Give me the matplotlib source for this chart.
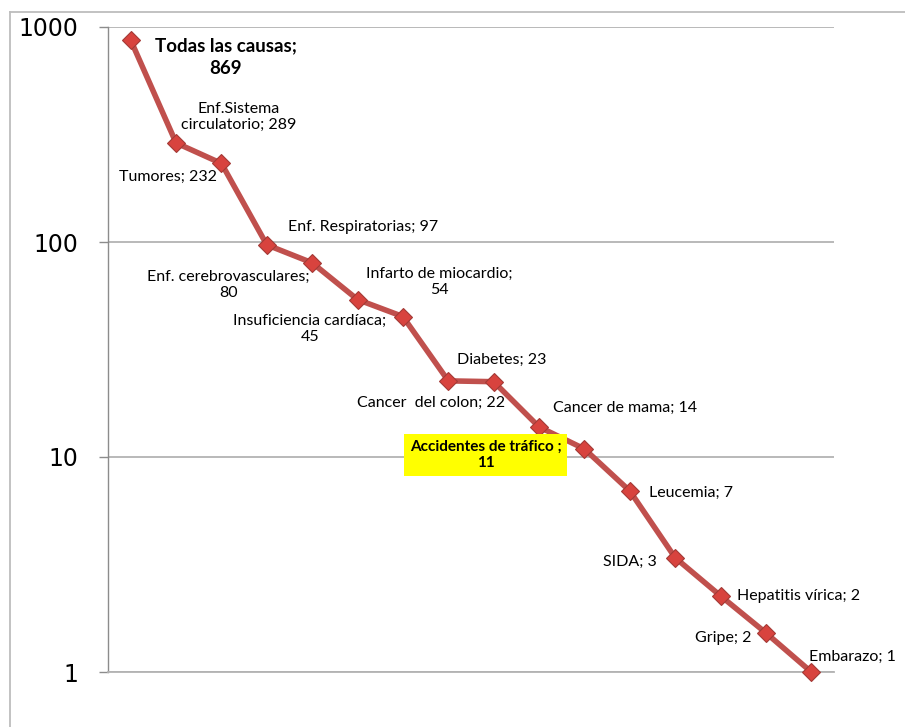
import matplotlib
matplotlib.use("Agg")
import matplotlib.pyplot as plt
from matplotlib.lines import Line2D
from matplotlib.ticker import FixedLocator, NullLocator, NullFormatter

# deaths per cause (log scale), sorted descending
causes = [
    "Todas las causas", "Enf.Sistema\ncirculatorio", "Tumores",
    "Enf. Respiratorias", "Enf. cerebrovasculares", "Infarto de miocardio",
    "Insuficiencia cardíaca", "Diabetes", "Cancer  del colon",
    "Cancer de mama", "Accidentes de tráfico ", "Leucemia", "SIDA",
    "Hepatitis vírica", "Gripe", "Embarazo",
]
deaths = [869, 289, 232, 97, 80, 54, 45, 22.6, 22.4, 13.8, 10.9, 6.95,
          3.4, 2.26, 1.52, 1.0]
y_ticks = [1, 10, 100, 1000]

# label placement: pixel offset from the marker (x right, y down)
label_offsets = [
    (95, 17), (63, -26), (-53, 13), (96, -18), (-84, 22), (82, -18),
    (-93, 12), (53, -21), (-63, 21), (86, -19), (-99, 6), (61, 2),
    (-45, 4), (78, 0), (-43, 5), (41, -15),
]
wrap_value = {0, 4, 5, 6, 10}

LINE_RED = "#C0504D"
MARK_RED = "#D8433E"
GRID = "#B3B3B3"
FONT = ["Lato", "DejaVu Sans"]

fig = plt.figure(figsize=(9.05, 7.27), dpi=100)
ax = fig.add_axes([108 / 905, 1 - 672 / 727, (834 - 108) / 905, (672 - 27) / 727])

x = list(range(len(deaths)))
ax.plot(x, deaths, color=LINE_RED, lw=4, solid_joinstyle="round",
        marker="D", ms=9.5, mfc=MARK_RED, mec="#A33A36", mew=0.8,
        zorder=3, clip_on=False)

ax.set_yscale("log")
ax.set_ylim(1, 1000)
ax.set_xlim(-0.5, len(deaths) - 0.5)
ax.yaxis.set_major_locator(FixedLocator(y_ticks))
ax.yaxis.set_minor_locator(NullLocator())
ax.yaxis.set_minor_formatter(NullFormatter())
ax.set_yticklabels([str(t) for t in y_ticks])
ax.set_xticks([])
ax.grid(axis="y", color=GRID, lw=1.3)
ax.set_axisbelow(True)

for s in ["top", "right"]:
    ax.spines[s].set_visible(False)
ax.spines["left"].set_color("#8C8C8C")
ax.spines["left"].set_linewidth(1.0)
ax.spines["bottom"].set_color(GRID)
ax.spines["bottom"].set_linewidth(1.3)
ax.tick_params(axis="y", length=6.5, width=1.0, color="#8C8C8C", pad=15,
               labelsize=17, labelcolor="black")

for i, (name, v) in enumerate(zip(causes, deaths)):
    sep = ";\n" if i in wrap_value else "; "
    text = f"{name}{sep}{v:.0f}"
    dx, dy = label_offsets[i]
    kw = dict(fontsize=11.5, family=FONT)
    if i == 0:
        kw = dict(fontsize=13.5, fontweight="bold", family=FONT, linespacing=1.35)
    elif i == 10:
        kw = dict(fontsize=11, fontweight="bold", family=FONT,
                  bbox=dict(boxstyle="square,pad=0.4", fc="#FFFF00", ec="none"))
    ax.annotate(text, (i, v), xytext=(dx, -dy), textcoords="offset pixels",
                ha="center", va="center", multialignment="center",
                annotation_clip=False, zorder=4, **kw)

# chart area border (top and left edges)
fig.add_artist(Line2D([10 / 905, 1], [1 - 12 / 727, 1 - 12 / 727],
                      transform=fig.transFigure, color="#BDBDBD", lw=1.3))
fig.add_artist(Line2D([10 / 905, 10 / 905], [0, 1 - 12 / 727],
                      transform=fig.transFigure, color="#BDBDBD", lw=1.3))

fig.savefig("out.png", dpi=100)
